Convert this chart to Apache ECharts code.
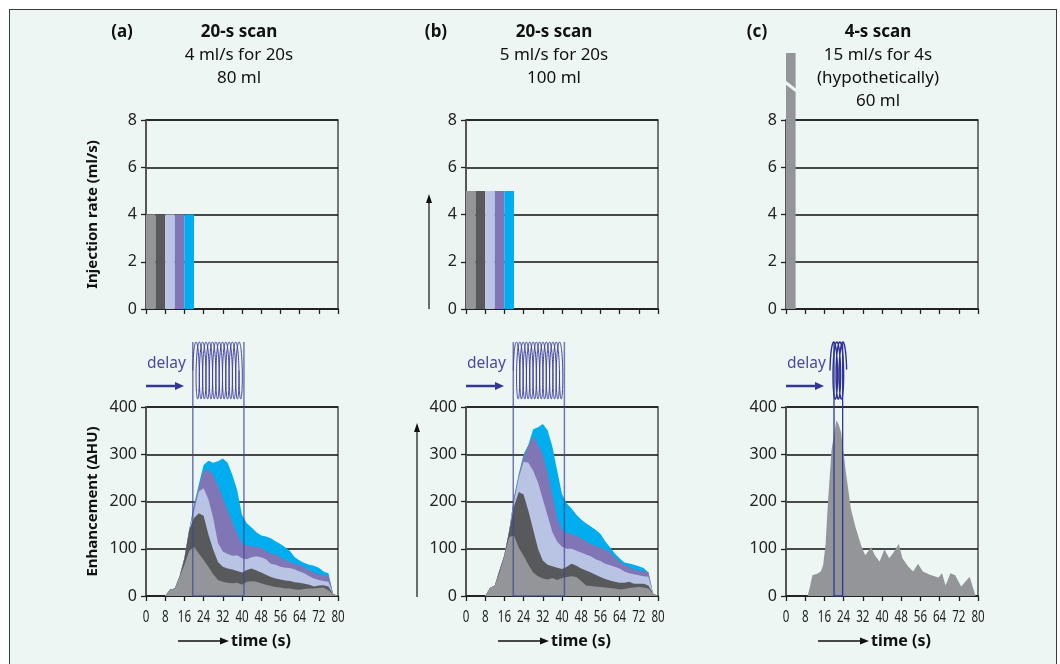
<!DOCTYPE html>
<html>
<head>
<meta charset="utf-8">
<script src="https://cdn.jsdelivr.net/npm/echarts@6/dist/echarts.min.js"></script>
<style>
  html, body { margin: 0; padding: 0; background: #fff; }
  #wrap { position: relative; width: 1060px; height: 664px; overflow: hidden; }
  #frame { position: absolute; left: 9px; top: 9px; width: 1046px; height: 700px;
           border: 1.5px solid #3a3a3a; background: #edf6f2; }
  #main { position: absolute; left: 0; top: 0; width: 1060px; height: 664px; }
</style>
</head>
<body>
<div id="wrap">
  <div id="frame"></div>
  <div id="main"></div>
</div>
<script>
// time samples (s) for panels a and b
var times = [0, 2, 4, 6, 8, 10, 12, 14, 16, 18, 20, 22, 24, 26, 28, 30, 32, 34, 36, 38, 40,
  42, 44, 46, 48, 50, 52, 54, 56, 58, 60, 62, 64, 66, 68, 70, 72, 74, 76, 78, 80];
var timeTicks = [0, 8, 16, 24, 32, 40, 48, 56, 64, 72, 80];

// panel (a): top edge of each stacked layer (HU)
var aGray   = [0,0,0,0,0,14,16,40,66,95,104,90,76,62,46,34,30,28,27,28,24,30,31,30,27,24,21,19,18,16,16,14,13,15,16,16,17,18,12,4,0];
var aDark   = [0,0,0,0,0,14,16,42,80,140,165,175,170,130,98,72,62,58,56,53,50,55,58,54,50,45,40,37,35,33,32,29,28,26,24,20,22,23,20,4,0];
var aLight  = [0,0,0,0,0,14,16,42,80,140,180,221,228,205,165,112,94,89,85,86,80,78,82,84,82,78,68,66,62,60,59,56,52,48,42,37,34,32,30,4,0];
var aPurple = [0,0,0,0,0,14,16,42,80,140,190,230,263,268,255,235,207,182,157,133,111,108,105,104,102,95,90,88,82,76,72,68,66,60,55,50,46,44,44,4,0];
var aBlue   = [0,0,0,0,0,14,16,42,80,140,193,236,277,286,282,285,291,282,256,224,172,154,145,135,128,126,122,116,110,103,95,82,75,70,66,64,60,52,48,4,0];

// panel (b)
var bGray   = [0,0,0,0,0,17,22,50,85,125,128,102,85,66,50,42,37,35,38,34,38,40,42,40,32,22,21,20,19,18,17,16,14,15,17,18,19,18,16,5,0];
var bDark   = [0,0,0,0,0,17,22,55,87,138,190,220,215,180,140,100,75,66,63,60,57,62,68,64,58,54,50,45,40,36,33,30,28,28,30,26,26,26,22,5,0];
var bLight  = [0,0,0,0,0,17,22,55,87,138,200,250,284,282,265,240,205,170,135,115,104,100,100,96,92,88,84,78,74,68,65,62,58,52,48,46,44,42,41,5,0];
var bPurple = [0,0,0,0,0,17,22,55,87,138,207,256,295,318,338,320,300,262,215,165,140,134,131,128,122,116,110,106,103,98,92,82,72,66,62,56,54,52,51,5,0];
var bBlue   = [0,0,0,0,0,17,22,55,87,138,210,258,300,320,353,357,364,351,316,265,216,196,185,172,162,154,147,140,132,116,103,90,80,71,69,66,63,59,50,5,0];

// panel (c): single curve, irregular samples
var cTimes  = [0,9,10,11,13,14.5,15.5,16.5,17.5,19,21,22,23,25,27,29,31.5,33,35.5,37,39,41,43,44.5,47,48.5,51,53,55,57,60,63.5,65,66.5,68.5,70.5,73,76.5,79,80];
var cValues = [0,0,20,44,47,52,66,110,200,310,372,362,345,260,185,145,104,86,103,86,73,99,80,90,110,80,62,52,68,52,45,39,48,22,48,44,20,41,0,0];

// injection protocol: consecutive 4-s phases
var phaseStarts = [0, 4, 8, 12, 16];
var phaseLen = 4;
var rateA = [4, 4, 4, 4, 4];
var rateB = [5, 5, 5, 5, 5];
var phaseStartsC = [0];
var rateC = [15];

// scan windows (s), helix turns and how far the coil overhangs the window
var scanA = [19.5, 40.8];
var scanB = [19.7, 41];
var scanC = [20, 23.6];
var helixTurns = [14, 14, 3.5];
var helixOverhang = [0, 0, 4];

var layerColors = ['#939598', '#58595b', '#b9c3e3', '#8176b5', '#00adee'];
var FONT = "'Noto Sans', 'Open Sans', sans-serif";

var panelLeft = [146, 466, 786];
var topY = 120, botY = 407, plotW = 192, plotH = 189;

function injRender(params, api) {
  var t0 = api.value(0), t1 = api.value(1), rate = api.value(2);
  var yMax = 8;
  var base = api.coord([t0, 0]);
  var end = api.coord([t1, 0]);
  var top = api.coord([t0, Math.min(rate, yMax)]);
  var color = layerColors[api.value(3)];
  var x = base[0], w = end[0] - base[0];
  if (rate <= yMax) {
    return { type: 'rect', shape: { x: x, y: top[1], width: w, height: base[1] - top[1] }, style: { fill: color } };
  }
  // off-scale rate: bar continues above the plot with a break mark
  var yt = top[1] - 67;
  return { type: 'group', children: [
    { type: 'rect', shape: { x: x, y: yt, width: w, height: base[1] - yt }, style: { fill: color } },
    { type: 'line', shape: { x1: x - 1, y1: top[1] - 38, x2: x + w + 1, y2: top[1] - 29 }, style: { stroke: '#edf6f2', lineWidth: 3 } }
  ]};
}

function makeScanRender(lineColor, lineW, helixColor, helixW, rx) {
  return function (params, api) {
    var s = api.coord([api.value(0), 0]);
    var e = api.coord([api.value(1), 0]);
    var turns = api.value(2), pad = api.value(3);
    var gridTop = api.coord([0, 400])[1];
    var hTop = gridTop - 65, hBot = gridTop - 8;
    var cy = (hTop + hBot) / 2, ry = (hBot - hTop) / 2;
    var cl = s[0] - pad, cr = e[0] + pad;
    var pitch = (cr - cl - 2 * rx) / turns;
    var pts = [];
    var th0 = -Math.PI / 2, th1 = th0 + 2 * Math.PI * turns;
    for (var th = th0; th <= th1 + 1e-6; th += 0.06) {
      pts.push([cl + rx + pitch * (th - th0) / (2 * Math.PI) + rx * Math.sin(th), cy - ry * Math.cos(th)]);
    }
    return { type: 'group', children: [
      { type: 'polyline', shape: { points: pts }, style: { stroke: helixColor, lineWidth: helixW, fill: null } },
      { type: 'polyline', shape: { points: [[s[0], hTop], [s[0], s[1]], [e[0], e[1]], [e[0], hTop]] },
        style: { stroke: lineColor, lineWidth: lineW, fill: null } }
    ]};
  };
}

var grids = [], xAxes = [], yAxes = [], series = [];
for (var p = 0; p < 3; p++) {
  [topY, botY].forEach(function (gy, k) {
    var g = grids.length;
    var isBottom = k === 1;
    grids.push({ left: panelLeft[p], top: gy, width: plotW, height: plotH, show: true,
      borderColor: '#4d4d4d', borderWidth: 1.5, backgroundColor: 'transparent' });
    xAxes.push({ gridIndex: g, type: 'value', min: 0, max: 80, interval: 8,
      axisLine: { show: true, onZero: false, lineStyle: { color: '#222', width: 1.5 } },
      axisTick: { show: true, length: 5, lineStyle: { color: '#222', width: 1.3 } },
      axisLabel: { show: false },
      splitLine: { show: false } });
    var y = { gridIndex: g, type: 'value', min: 0, max: isBottom ? 400 : 8, interval: isBottom ? 100 : 2,
      axisLine: { show: true, lineStyle: { color: '#555', width: 2 } },
      axisTick: { show: true, length: 5, lineStyle: { color: '#222', width: 1.3 } },
      axisLabel: { fontFamily: FONT, fontSize: 16, color: '#222', margin: 9 },
      splitLine: { show: true, lineStyle: { color: '#111', width: 1.5 } } };
    if (p === 0) {
      y.name = isBottom ? 'Enhancement (\u0394HU)' : 'Injection rate (ml/s)';
      y.nameLocation = 'middle';
      y.nameRotate = 90;
      y.nameGap = 46;
      y.nameTextStyle = { fontFamily: FONT, fontSize: 15, fontWeight: 'bold', color: '#111' };
    }
    yAxes.push(y);
  });
}

function injData(starts, rates) {
  return starts.map(function (s, i) { return [s, s + phaseLen, rates[i], i]; });
}
[injData(phaseStarts, rateA), injData(phaseStarts, rateB), injData(phaseStartsC, rateC)].forEach(function (d, p) {
  series.push({ type: 'custom', xAxisIndex: 2 * p, yAxisIndex: 2 * p, renderItem: injRender, data: d, z: 3, clip: false });
});

function area(g, xs, ys, color, z) {
  return { type: 'line', xAxisIndex: g, yAxisIndex: g, data: xs.map(function (t, i) { return [t, ys[i]]; }),
    showSymbol: false, symbol: 'none', lineStyle: { width: 0, opacity: 0 },
    areaStyle: { color: color, opacity: 1 }, z: z, silent: true };
}
[[aBlue, aPurple, aLight, aDark, aGray], [bBlue, bPurple, bLight, bDark, bGray]].forEach(function (layers, p) {
  layers.forEach(function (arr, i) {
    series.push(area(2 * p + 1, times, arr, layerColors[4 - i], 3 + i));
  });
});
series.push(area(5, cTimes, cValues, layerColors[0], 3));

var scans = [scanA, scanB, scanC];
scans.forEach(function (sc, p) {
  var strong = p === 2;
  series.push({ type: 'custom', xAxisIndex: 2 * p + 1, yAxisIndex: 2 * p + 1, clip: false, z: 12,
    renderItem: makeScanRender(strong ? '#2b3a9a' : 'rgba(60,70,150,0.7)', strong ? 1.3 : 1.5,
      strong ? '#2e3192' : '#3d3d9c', strong ? 1.4 : 1, strong ? 3 : 2.4),
    data: [[sc[0], sc[1], helixTurns[p], helixOverhang[p]]] });
});

var chart = echarts.init(document.getElementById('main'));
chart.setOption({
  animation: false,
  backgroundColor: 'transparent',
  grid: grids,
  xAxis: xAxes,
  yAxis: yAxes,
  series: series
});

// annotations
function txt(x, y, s, size, weight, color, align) {
  return { type: 'text', x: x, y: y, z: 20, style: { text: s, fill: color || '#111', fontFamily: FONT, fontSize: size,
    fontWeight: weight || 'normal', textAlign: align || 'center', align: align || 'center',
    textVerticalAlign: 'middle', verticalAlign: 'middle' } };
}
function arrow(x1, y1, x2, y2, color, w, hl, hw) {
  var dx = x2 - x1, dy = y2 - y1, L = Math.sqrt(dx * dx + dy * dy), ux = dx / L, uy = dy / L;
  var bx = x2 - ux * hl, by = y2 - uy * hl;
  return [
    { type: 'line', z: 20, shape: { x1: x1, y1: y1, x2: bx, y2: by }, style: { stroke: color, lineWidth: w } },
    { type: 'polygon', z: 20, shape: { points: [[x2, y2], [bx - uy * hw, by + ux * hw], [bx + uy * hw, by - ux * hw]] }, style: { fill: color } }
  ];
}

var titles = [
  { tag: '(a)', tagX: 122, cx: 239, lines: ['20-s scan', '4 ml/s for 20s', '80 ml'] },
  { tag: '(b)', tagX: 436, cx: 554, lines: ['20-s scan', '5 ml/s for 20s', '100 ml'] },
  { tag: '(c)', tagX: 757, cx: 878, lines: ['4-s scan', '15 ml/s for 4s', '(hypothetically)', '60 ml'] }
];
var graphics = [];
titles.forEach(function (t, p) {
  graphics.push(txt(t.tagX, 32, t.tag, 17, 'bold', '#111'));
  t.lines.forEach(function (s, i) {
    graphics.push(txt(t.cx, 32 + 23 * i, s, 17, i === 0 ? 'bold' : 'normal', '#111'));
  });
  var L = panelLeft[p];
  graphics.push(txt(L + 1, 364, 'delay', 15.5, 'normal', '#4a4aa3', 'left'));
  graphics = graphics.concat(arrow(L, 386, L + 38, 386, '#34359a', 2.5, 9, 4));
  var tx = L + 32;
  graphics = graphics.concat(arrow(tx, 641, tx + 51, 641, '#111', 1.3, 9, 3.5));
  graphics.push(txt(tx + 53, 641, 'time (s)', 16, 'bold', '#111', 'left'));
  // condensed time tick labels, placed through the bottom x axis scale
  timeTicks.forEach(function (v) {
    var px = chart.convertToPixel({ xAxisIndex: 2 * p + 1 }, v);
    var lbl = txt(px, 617, String(v), 17, 'normal', '#222');
    lbl.scaleX = 0.68;
    graphics.push(lbl);
  });
});
graphics = graphics.concat(arrow(429, 309, 429, 194, '#111', 1.2, 9, 3));
graphics = graphics.concat(arrow(417, 597, 417, 423, '#111', 1.2, 9, 3));

chart.setOption({ graphic: graphics });
</script>
</body>
</html>
